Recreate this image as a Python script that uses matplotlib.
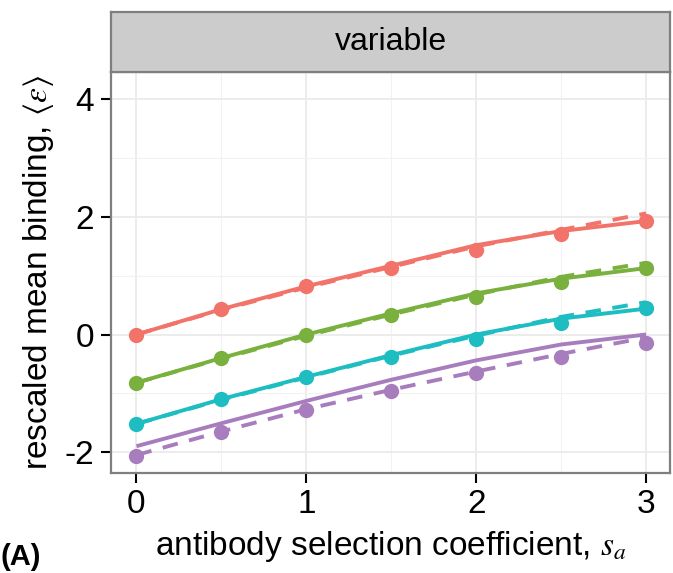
import matplotlib
matplotlib.use("Agg")
import matplotlib.pyplot as plt

plt.rcParams['font.family'] = ['Liberation Sans', 'DejaVu Sans']
plt.rcParams['mathtext.fontset'] = 'stix'
plt.rcParams['axes.unicode_minus'] = False

s = [0, 0.5, 1, 1.5, 2, 2.5, 3]
series_names = ["a", "b", "c", "d"]
colors = ["#F2736A", "#7AB03E", "#1DBDC1", "#A77DBE"]

points = [
    [0.00, 0.43, 0.82, 1.14, 1.44, 1.71, 1.93],
    [-0.82, -0.40, -0.01, 0.33, 0.64, 0.90, 1.14],
    [-1.52, -1.10, -0.72, -0.38, -0.08, 0.19, 0.45],
    [-2.07, -1.66, -1.28, -0.96, -0.66, -0.38, -0.14],
]
solid = [
    [0.00, 0.43, 0.82, 1.17, 1.52, 1.76, 1.93],
    [-0.82, -0.40, 0.00, 0.36, 0.70, 0.95, 1.13],
    [-1.52, -1.10, -0.72, -0.35, 0.00, 0.27, 0.44],
    [-1.90, -1.51, -1.13, -0.77, -0.44, -0.17, 0.00],
]
dashed = [
    [0.00, 0.42, 0.80, 1.15, 1.50, 1.78, 2.06],
    [-0.82, -0.41, -0.02, 0.34, 0.68, 0.98, 1.22],
    [-1.52, -1.11, -0.73, -0.36, -0.02, 0.30, 0.55],
    [-2.05, -1.65, -1.27, -0.94, -0.63, -0.33, -0.05],
]

xticks = [0, 1, 2, 3]
yticks = [-2, 0, 2, 4]

W, H = 673, 573
fig = plt.figure(figsize=(W / 100, H / 100), dpi=100)
L, R, B, T = 111, 670, 472.7, 72
ax = fig.add_axes([L / W, 1 - B / H, (R - L) / W, (B - T) / H])

for c, p, so, da in zip(colors, points, solid, dashed):
    ax.plot(s, so, color=c, lw=2.8, solid_capstyle='butt', zorder=3)
    ax.plot(s, da, color=c, lw=2.8, ls=(0, (4, 3)), zorder=3)
    ax.plot(s, p, 'o', color=c, ms=11, mec='none', zorder=4)

ax.set_xlim(-0.15, 3.141)
ax.set_ylim(-2.351, 4.466)
ax.set_xticks(xticks)
ax.set_yticks(yticks)
ax.set_xticks([0.5, 1.5, 2.5], minor=True)
ax.set_yticks([-1, 1, 3], minor=True)
ax.grid(True, which='major', color='#EBEBEB', lw=1.3, zorder=0)
ax.grid(True, which='minor', color='#F2F2F2', lw=0.8, zorder=0)
ax.set_axisbelow(True)
ax.tick_params(which='major', length=7, width=1.5, color='black', labelsize=24,
               labelcolor='black', pad=5)
ax.tick_params(which='minor', length=0)
for sp in ax.spines.values():
    sp.set_color('#7F7F7F')
    sp.set_linewidth(1.6)

ax.set_xlabel(r"antibody selection coefficient, $s_a$", fontsize=24, labelpad=6)
ax.set_ylabel(r"rescaled mean binding, $\langle\varepsilon\rangle$", fontsize=24, labelpad=6)

# facet strip
sax = fig.add_axes([L / W, 1 - T / H, (R - L) / W, (T - 12) / H])
sax.set_xlim(0, 1)
sax.set_ylim(0, 1)
sax.set_facecolor('#CCCCCC')
sax.set_xticks([])
sax.set_yticks([])
for sp in sax.spines.values():
    sp.set_color('#7F7F7F')
    sp.set_linewidth(1.6)
sax.text(0.5, 0.5, "variable", ha='center', va='center', fontsize=23)

fig.text(0.0, 0.003, "(A)", fontsize=21, fontweight='bold', ha='left', va='bottom')

fig.savefig("out.png", dpi=100)
